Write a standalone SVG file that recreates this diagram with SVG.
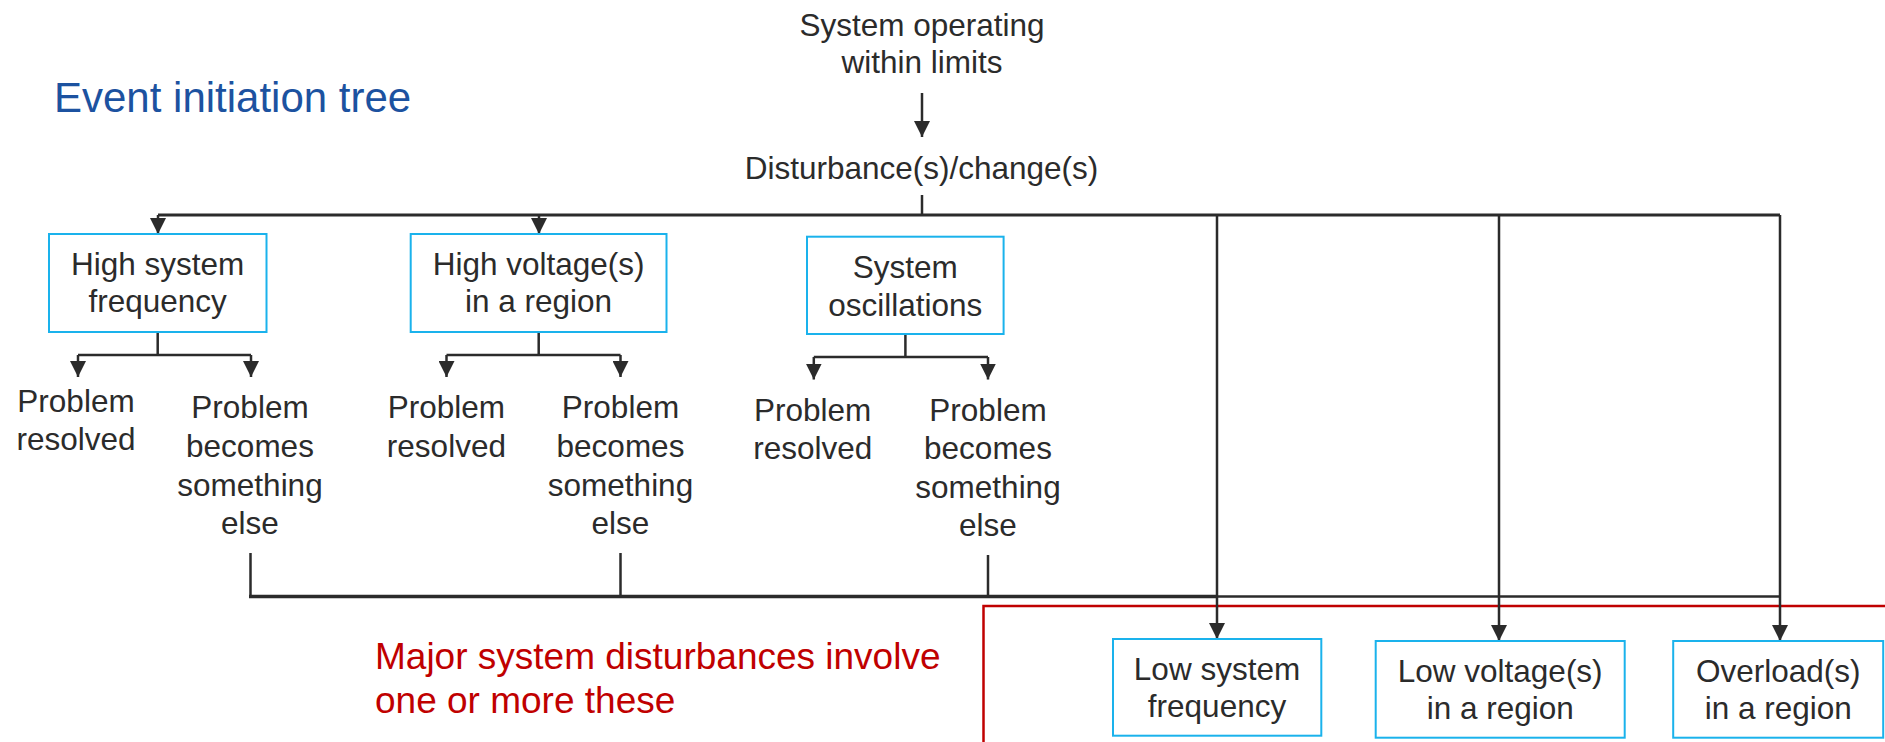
<svg xmlns="http://www.w3.org/2000/svg" width="1885" height="742" viewBox="0 0 1885 742">
  <style>
    text { font-family: "Liberation Sans", Arial, sans-serif; }
    .t { font-size: 31.5px; fill: #2b2b2b; text-anchor: middle; }
    .title { font-size: 42px; fill: #1c52a0; }
    .note { font-size: 37px; fill: #c00000; }
    .box { fill: #ffffff; stroke: #1ab2ec; stroke-width: 2; }
    .ln { fill: none; stroke: #2b2b2b; stroke-width: 2.5; }
    .bus { fill: none; stroke: #2b2b2b; stroke-width: 3.5; }
    .arr { fill: none; stroke: #2b2b2b; stroke-width: 2.5; marker-end: url(#tip); }
    .frame { fill: none; stroke: #c00000; stroke-width: 2.5; }
  </style>
  <defs>
    <marker id="tip" viewBox="0 0 16 16" refX="16" refY="8" markerWidth="16" markerHeight="16" markerUnits="userSpaceOnUse" orient="auto">
      <path d="M0,0 L16,8 L0,16 z" fill="#2b2b2b"/>
    </marker>
  </defs>

  <rect width="1885" height="742" fill="#ffffff"/>

  <!-- heading -->
  <text class="title" x="54" y="112">Event initiation tree</text>

  <!-- outline round the major disturbance outcomes -->
  <path class="frame" d="M1885,606 H983.5 V742"/>
  <g id="note">
    <text class="note" x="375" y="669">Major system disturbances involve</text>
    <text class="note" x="375" y="713">one or more these</text>
  </g>

  <!-- connectors -->
  <g id="connectors">
    <line class="arr" x1="922" y1="93" x2="922" y2="137"/>
    <line class="ln" x1="922" y1="195" x2="922" y2="215"/>
    <!-- top bus -->
    <polyline class="ln" points="158,215 1780,215" style="stroke-width:3"/>
    <line class="arr" x1="158" y1="215" x2="158" y2="234"/>
    <line class="arr" x1="539" y1="215" x2="539" y2="234"/>
    <line class="arr" x1="1217" y1="215" x2="1217" y2="639"/>
    <line class="arr" x1="1499" y1="215" x2="1499" y2="641"/>
    <line class="arr" x1="1780" y1="215" x2="1780" y2="641"/>

    <!-- box 1 split -->
    <line class="ln" x1="157.7" y1="332" x2="157.7" y2="355"/>
    <line class="ln" x1="78" y1="355" x2="251" y2="355"/>
    <line class="arr" x1="78" y1="355" x2="78" y2="377"/>
    <line class="arr" x1="251" y1="355" x2="251" y2="377"/>

    <!-- box 2 split -->
    <line class="ln" x1="538.7" y1="332" x2="538.7" y2="355"/>
    <line class="ln" x1="446.5" y1="355" x2="620.5" y2="355"/>
    <line class="arr" x1="446.5" y1="355" x2="446.5" y2="377"/>
    <line class="arr" x1="620.5" y1="355" x2="620.5" y2="377"/>

    <!-- box 3 split -->
    <line class="ln" x1="905.4" y1="334" x2="905.4" y2="357"/>
    <line class="ln" x1="813.8" y1="357" x2="988" y2="357"/>
    <line class="arr" x1="813.8" y1="357" x2="813.8" y2="379.5"/>
    <line class="arr" x1="988" y1="357" x2="988" y2="379.5"/>

    <!-- escalation paths feeding the bottom bus -->
    <line class="ln" x1="250.5" y1="553" x2="250.5" y2="596.5"/>
    <line class="ln" x1="620.5" y1="553" x2="620.5" y2="596.5"/>
    <line class="ln" x1="988" y1="555" x2="988" y2="596.5"/>
    <line class="bus" x1="249" y1="596.5" x2="1217" y2="596.5"/>
    <line class="ln" x1="1217" y1="596.5" x2="1781" y2="596.5"/>
  </g>

  <!-- start state -->
  <g id="start">
    <text class="t" x="922" y="35.5">System operating</text>
    <text class="t" x="922" y="73">within limits</text>
  </g>
  <g id="disturbance">
    <text class="t" x="921.5" y="179">Disturbance(s)/change(s)</text>
  </g>

  <!-- first-level events -->
  <g id="high-frequency">
    <rect class="box" x="49" y="234" width="217.5" height="98"/>
    <text class="t" x="157.7" y="275">High system</text>
    <text class="t" x="157.7" y="312">frequency</text>
  </g>
  <g id="high-voltage">
    <rect class="box" x="410.7" y="234" width="255.8" height="98"/>
    <text class="t" x="538.6" y="275">High voltage(s)</text>
    <text class="t" x="538.6" y="312">in a region</text>
  </g>
  <g id="oscillations">
    <rect class="box" x="807" y="236.7" width="196.6" height="97.3"/>
    <text class="t" x="905.3" y="278">System</text>
    <text class="t" x="905.3" y="316">oscillations</text>
  </g>

  <!-- outcomes -->
  <g id="hf-resolved">
    <text class="t" x="76" y="411.7">Problem</text>
    <text class="t" x="76" y="450">resolved</text>
  </g>
  <g id="hf-escalates">
    <text class="t" x="250" y="418">Problem</text>
    <text class="t" x="250" y="457">becomes</text>
    <text class="t" x="250" y="495.7">something</text>
    <text class="t" x="250" y="534">else</text>
  </g>
  <g id="hv-resolved">
    <text class="t" x="446.4" y="418">Problem</text>
    <text class="t" x="446.4" y="456.7">resolved</text>
  </g>
  <g id="hv-escalates">
    <text class="t" x="620.5" y="418">Problem</text>
    <text class="t" x="620.5" y="457">becomes</text>
    <text class="t" x="620.5" y="496">something</text>
    <text class="t" x="620.5" y="534">else</text>
  </g>
  <g id="osc-resolved">
    <text class="t" x="812.7" y="420.7">Problem</text>
    <text class="t" x="812.7" y="459.3">resolved</text>
  </g>
  <g id="osc-escalates">
    <text class="t" x="988" y="420.7">Problem</text>
    <text class="t" x="988" y="459">becomes</text>
    <text class="t" x="988" y="498">something</text>
    <text class="t" x="988" y="536">else</text>
  </g>

  <!-- major disturbance outcomes -->
  <g id="low-frequency">
    <rect class="box" x="1113" y="639" width="208.3" height="96.7"/>
    <text class="t" x="1217" y="680">Low system</text>
    <text class="t" x="1217" y="717">frequency</text>
  </g>
  <g id="low-voltage">
    <rect class="box" x="1375.7" y="641" width="249" height="96.7"/>
    <text class="t" x="1500.2" y="682">Low voltage(s)</text>
    <text class="t" x="1500.2" y="718.5">in a region</text>
  </g>
  <g id="overload">
    <rect class="box" x="1673.2" y="641" width="210" height="96.7"/>
    <text class="t" x="1778.2" y="682">Overload(s)</text>
    <text class="t" x="1778.2" y="718.5">in a region</text>
  </g>
</svg>
